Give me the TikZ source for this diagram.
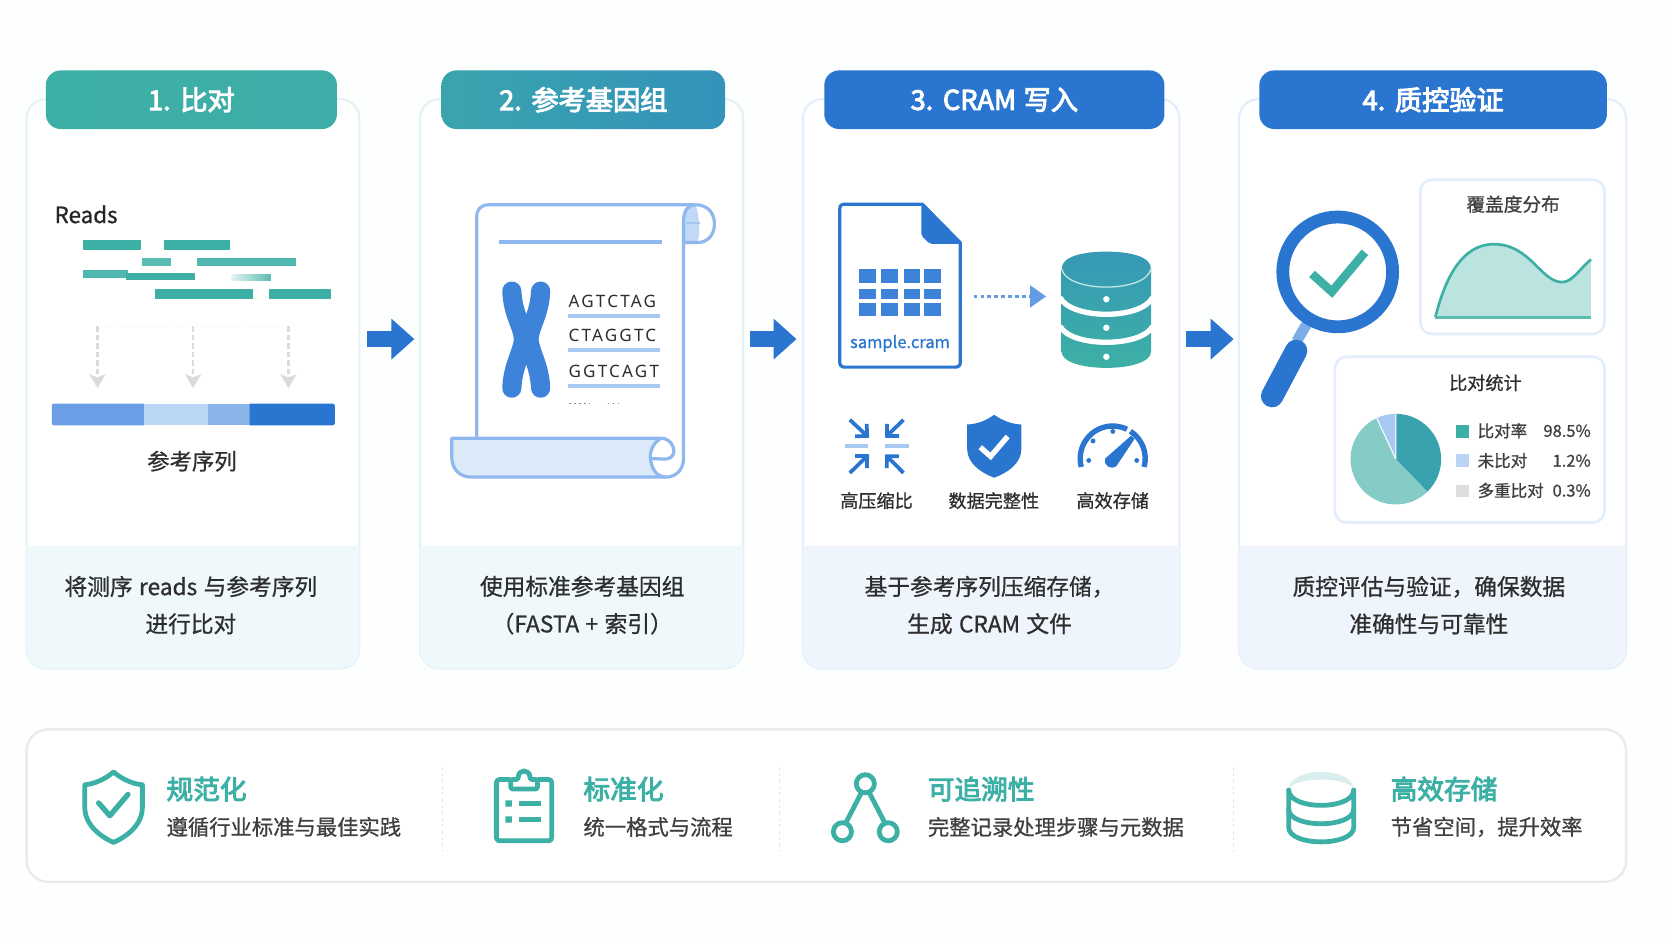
\documentclass[tikz,border=0pt]{standalone}
\usepackage{fontspec}
\usetikzlibrary{arrows.meta,calc}
\setmainfont[WordSpace=1.25,FakeBold=0.8]{Noto Sans CJK SC}
\newfontfamily\medfont[FakeBold=3.5,WordSpace=1.25]{Noto Sans CJK SC}
\newfontfamily\seqfont[LetterSpace=13]{Noto Sans}
\definecolor{bgc}{HTML}{FDFEFE}
\definecolor{teal1}{HTML}{3DB0A5}
\definecolor{blue1}{HTML}{2A75D0}
\definecolor{blue2}{HTML}{3D83DA}
\definecolor{lblue}{HTML}{A6C8F2}
\definecolor{sblue}{HTML}{8FB8EE}
\definecolor{bandA}{HTML}{EFF8FA}
\definecolor{bandB}{HTML}{EFF5FD}
\definecolor{bordA}{HTML}{E5F2F5}
\definecolor{bordB}{HTML}{E3EDFB}
\definecolor{ink}{HTML}{2E2E2E}
\definecolor{ink2}{HTML}{404040}
\definecolor{segA}{HTML}{6A9FE6}
\definecolor{pieA}{HTML}{38A3AE}
\definecolor{pieB}{HTML}{85CCC6}
\newcommand{\fs}[2]{\fontsize{#1}{#2}\selectfont}
\tikzset{
  x=1pt,y=-1pt,
  cardbox/.style={draw=#1,line width=2,fill=white,rounded corners=18,anchor=north west,inner sep=0,outer sep=0},
  headbox/.style={rounded corners=14,anchor=north west,inner sep=0,outer sep=0,text=white,align=center,font=\medfont\fs{25.5}{30},minimum height=55},
  desc/.style={align=center,text=ink,font=\fs{21.3}{35},inner sep=0},
  flow/.style={draw=blue1,line width=14.5,-{Triangle[length=21.6,width=37]}},
  dashdown/.style={draw=black!14,line width=2.4,dash pattern=on 5 off 3,-{Stealth[length=13,width=15,inset=3]}},
  readbar/.style={fill=teal1},
  lab/.style={inner sep=0,text=ink,font=\fs{17}{20}},
  panel/.style={draw=#1,line width=2.5,fill=white,rounded corners=11,anchor=north west,inner sep=0,outer sep=0},
  iconline/.style={draw=teal1,line width=4.5,line join=round,line cap=round},
  btitle/.style={inner sep=0,anchor=west,text=teal1,font=\medfont\fs{25}{30}},
  bsub/.style={inner sep=0,anchor=west,text=ink2,font=\fs{20}{24}},
  leg/.style={inner sep=0,anchor=west,text=ink2,font=\fs{15.5}{18}},
  legv/.style={inner sep=0,anchor=east,text=ink2,font=\fs{15.5}{18}},
  seq/.style={inner sep=0,anchor=west,text=ink,font=\seqfont\fs{16}{18}},
  divline/.style={draw=black!10,line width=1.2,dashed},
}
\begin{document}
\begin{tikzpicture}
\useasboundingbox (0,0) rectangle (1568,882.4);
\fill[bgc] (0,0) rectangle (1568,882.4);

%---- cards
\node[cardbox=bordA,minimum width=312,minimum height=534] (card1) at (25,93) {};
\node[cardbox=bordA,minimum width=303,minimum height=534] (card2) at (394,93) {};
\node[cardbox=bordB,minimum width=353,minimum height=534] (card3) at (753,93) {};
\node[cardbox=bordB,minimum width=363,minimum height=534] (card4) at (1162,93) {};
\fill[bandA] (25,512) [rounded corners=18] -- (25,627) -- (337,627) [sharp corners] -- (337,512) -- cycle;
\fill[bandA] (394,512) [rounded corners=18] -- (394,627) -- (697,627) [sharp corners] -- (697,512) -- cycle;
\fill[bandB] (753,512) [rounded corners=18] -- (753,627) -- (1106,627) [sharp corners] -- (1106,512) -- cycle;
\fill[bandB] (1162,512) [rounded corners=18] -- (1162,627) -- (1525,627) [sharp corners] -- (1525,512) -- cycle;

%---- headers
\node[headbox,minimum width=273,left color=teal1,right color=teal1!95!blue1] (h1) at (43,66) {1. 比对};
\node[headbox,minimum width=266,left color=teal1!80!blue1,right color=teal1!50!blue1] (h2) at (414,66) {2. 参考基因组};
\node[headbox,minimum width=319,fill=blue1] (h3) at (773,66) {3. CRAM 写入};
\node[headbox,minimum width=326,fill=blue1] (h4) at (1181,66) {4. 质控验证};

%---- descriptions
\node[desc] (d1) at (179,567.5) {将测序 reads 与参考序列\\进行比对};
\node[desc] (d2) at (546,567.5) {使用标准参考基因组\\（FASTA + 索引）};
\node[desc] (d3) at (928,567.5) {基于参考序列压缩存储，\\生成 CRAM 文件};
\node[desc] (d4) at (1340,567.5) {质控评估与验证，确保数据\\准确性与可靠性};

%---- flow arrows
\draw[flow,shorten <=7,shorten >=5.4] ([yshift=42]card1.east) -- ([yshift=42]card2.west);
\draw[flow,shorten <=6,shorten >=6] ([yshift=42]card2.east) -- ([yshift=42]card3.west);
\draw[flow,shorten <=6,shorten >=5] ([yshift=42]card3.east) -- ([yshift=42]card4.west);

%---- card 1
\node[inner sep=0,anchor=west,text=black!85,font=\fs{21}{25}] (reads) at (51,201) {Reads};
\fill[readbar] (77.7,225.4) rectangle (132,234);
\fill[readbar] (154,225.4) rectangle (216,234);
\fill[teal1!85] (133,241.7) rectangle (160,249.5);
\fill[teal1!90] (185,241.7) rectangle (278,249.5);
\fill[teal1!90] (78,253) rectangle (120,261);
\fill[readbar] (118,255.7) rectangle (183,263);
\shade[left color=teal1!15,right color=teal1!85] (217,257) rectangle (254,263.5);
\fill[readbar] (145,271) rectangle (237,280);
\fill[readbar] (252,271) rectangle (310,280);
\draw[black!6,line width=1.2,dotted] (91.4,306) -- (270.5,306);
\coordinate (a1s) at (91.4,306); \coordinate (a1e) at (91.4,364);
\coordinate (a2s) at (181,306);  \coordinate (a2e) at (181,364);
\coordinate (a3s) at (270.5,306);\coordinate (a3e) at (270.5,364);
\draw[dashdown] (a1s) -- (a1e);
\draw[dashdown] (a2s) -- (a2e);
\draw[dashdown] (a3s) -- (a3e);
\fill[segA] (135,378.5) [rounded corners=2] -- (48.6,378.5) -- (48.6,398.8) [sharp corners] -- (135,398.8) -- cycle;
\fill[lblue!75] (135,378.5) rectangle (195.5,398.8);
\fill[blue2!60] (195.5,378.5) rectangle (234,398.8);
\fill[blue1] (234,378.5) [rounded corners=2] -- (314,378.5) -- (314,398.8) [sharp corners] -- (234,398.8) -- cycle;
\node[inner sep=0,text=ink,font=\fs{21}{25}] (reflabel) at (180,432.5) {参考序列};

%---- card 2: scroll
\begin{scope}[draw=sblue,line width=3,line join=round]
\fill[white] (447,411) -- (447,204) .. controls (447,196) and (451,192) .. (459,192) -- (652,192) -- (641,225) -- (641,430) -- cycle;
\draw (447,411) -- (447,204) .. controls (447,196) and (451,192) .. (459,192) -- (652,192);
\fill[lblue!70] (652,192) .. controls (645,192) and (640,198) .. (640,208) -- (640,227.5) -- (654,227.5) .. controls (657,220) and (656,200) .. (652,192) -- cycle;
\draw (652,192) .. controls (664,192) and (670,200) .. (670,210) .. controls (670,221) and (663,227.5) .. (654,227.5) -- (641,227.5);
\draw (652,192) .. controls (645,192) and (641,198) .. (641,208) -- (641,430) .. controls (641,440) and (634,447.4) .. (625,447.4);
\draw[line width=2,sblue!80] (643,209) -- (656,209);
\fill[blue2!18] (423.6,411) -- (620,411) .. controls (612,415) and (609,425) .. (610,430) .. controls (611,440) and (616,447.4) .. (625,447.4) -- (442,447.4) .. controls (431,447.4) and (423.6,440) .. (423.6,428) -- cycle;
\draw (625,447.4) -- (442,447.4) .. controls (431,447.4) and (423.6,440) .. (423.6,428) -- (423.6,411) -- (620,411);
\draw (620,411) .. controls (628,411) and (632,418) .. (632,423) .. controls (632,428) and (628,431) .. (622,430.5) -- (610,430);
\draw (620,411) .. controls (612,415) and (609,425) .. (610,430) .. controls (611,440) and (616,447.4) .. (625,447.4);
\draw[line width=3.5] (468,227) -- (621,227);
\end{scope}
\begin{scope}[draw=blue2,line width=18,line cap=round]
\draw (480,273) .. controls (481,295) and (490,305) .. (491,318) .. controls (490,331) and (481,342) .. (480,364);
\draw (507,273) .. controls (506,295) and (497,305) .. (496,318) .. controls (497,331) and (506,342) .. (507,364);
\end{scope}
\node[seq] (s1) at (533,282.5) {AGTCTAG};
\node[seq] (s2) at (533,315) {CTAGGTC};
\node[seq] (s3) at (533,348) {GGTCAGT};
\draw[lblue,line width=3.5] (533,296) -- (619,296) (533,328.4) -- (619,328.4) (533,362) -- (619,362);
\draw[black!45,line width=1.1,dash pattern=on 1.4 off 3.2] (534,378.5) -- (553,378.5) (570,378.5) -- (580,378.5);

%---- card 3: file
\node[draw=none,inner sep=0,minimum width=113,minimum height=153,anchor=north west] (file) at (787.5,191.5) {};
\draw[blue1,line width=3,line join=round,fill=white] (792,191.5) -- (865,191.5) -- (900.6,227.7) -- (900.6,339.5) .. controls (900.6,342.5) and (899,344.3) .. (896,344.3) -- (792,344.3) .. controls (789,344.3) and (787.5,342.5) .. (787.5,339.5) -- (787.5,196) .. controls (787.5,193) and (789,191.5) .. (792,191.5) -- cycle;
\fill[blue1,rounded corners=2] (864,190) -- (902,228.7) -- (872,228.7) -- (864,221) -- cycle;
\foreach \xa/\xb in {805.7/821.7,826.5/842,847.3/862.8,866.5/882}
  \foreach \ya/\yb in {252.6/265.4,270.9/280.6,284.5/296.5}
    \fill[blue2] (\xa,\ya) rectangle (\xb,\yb);
\node[inner sep=0,text=blue1,font=\fs{15.5}{18}] (fname) at (844,322) {sample.cram};
%---- database
\shade[top color=teal1!60!blue1,bottom color=teal1] (995.6,252) .. controls (995.6,241) and (1014,236) .. (1037.5,236) .. controls (1061,236) and (1079.4,241) .. (1079.4,252) -- (1079.4,330) .. controls (1079.4,339) and (1061,345) .. (1037.5,345) .. controls (1014,345) and (995.6,339) .. (995.6,330) -- cycle;
\coordinate (dbw) at (995.6,278);
\draw[white!70!teal1,line width=1.2] (995.6,252) .. controls (1000,275) and (1075,275) .. (1079.4,252);
\draw[white,line width=5] (994,279) .. controls (1005,300) and (1070,300) .. (1081,279);
\draw[white,line width=5] (994,306) .. controls (1005,326) and (1070,326) .. (1081,306);
\fill[white] (1037.5,280.6) circle (3) (1037.5,307.4) circle (3) (1037.5,334.6) circle (3);
\coordinate (fs) at (913,278);
\draw[draw=blue2!80,line width=2.5,dash pattern=on 3.5 off 3,-{Triangle[length=15,width=20.5]}] (fs) -- ($(dbw)+(-14.6,0)$);

%---- small icons row
\begin{scope}[draw=blue1,line width=3.5,line cap=butt]
\draw[-{Straight Barb[length=8,width=16,angle'=90]}] (797,393.7) -- (815,410.5);
\draw[-{Straight Barb[length=8,width=16,angle'=90]}] (847.3,393.7) -- (830,410.5);
\draw[-{Straight Barb[length=8,width=16,angle'=90]}] (797,443.5) -- (815,426);
\draw[-{Straight Barb[length=8,width=16,angle'=90]}] (847.3,443.5) -- (830,426);
\end{scope}
\draw[lblue,line width=3.5] (792.3,418) -- (814,418) (830,418) -- (852,418);
\fill[blue1] (932.3,389) .. controls (941,395) and (950,398) .. (957.8,398) -- (957.8,421) .. controls (957.8,434) and (946,443) .. (932.3,448) .. controls (919,443) and (907,434) .. (907,421) -- (907,398) .. controls (915,398) and (924,395) .. (932.3,389) -- cycle;
\draw[white,line width=5] (919.3,419.4) -- (929,428) -- (945,409.3);
\coordinate (gc) at (1043.5,430);
\draw[blue1,line width=5] (gc) ++(165:30.5) arc[start angle=165,end angle=296,radius=30.5];
\draw[blue1,line width=5] (gc) ++(303:30.5) arc[start angle=303,end angle=375,radius=30.5];
\fill[blue1] (1060.8,408.5) -- (1064,411.5) -- (1047,437) .. controls (1042,441) and (1034.5,437) .. (1036.5,430) -- cycle;
\fill[blue1] (1021,431.8) circle (2.3) (1025,413.5) circle (2.3) (1043.6,404.6) circle (2.3) (1066,431.8) circle (2.3);
\node[lab] (l1) at (822,469.5) {高压缩比};
\node[lab] (l2) at (932,469.5) {数据完整性};
\node[lab] (l3) at (1043.5,469.5) {高效存储};

%---- card 4: magnifier
\draw[lblue!60!blue2,line width=10] (1226,303) -- (1216,320);
\draw[blue1,line width=21,line cap=round] (1215.5,329) -- (1193,371.5);
\draw[blue1,line width=12,fill=white] (1254.5,255) circle (51.5);
\draw[teal1,line width=8] (1230.4,256.9) -- (1249,273.6) -- (1280,236.6);
%---- coverage
\node[panel=bordB,minimum width=172.7,minimum height=144.6] (cov) at (1332,168.6) {};
\node[inner sep=0,text=ink2,font=\fs{17.5}{20}] (covt) at (1419,191.5) {覆盖度分布};
\fill[teal1!35] (1346,297.5) .. controls (1352,275) and (1365,229) .. (1401,229) .. controls (1435,229) and (1445,264.6) .. (1465,264.6) .. controls (1475,264.6) and (1483,250) .. (1492,243.3) -- (1492,297.5) -- cycle;
\draw[teal1,line width=2.5] (1346,297.5) .. controls (1352,275) and (1365,229) .. (1401,229) .. controls (1435,229) and (1445,264.6) .. (1465,264.6) .. controls (1475,264.6) and (1483,250) .. (1492,243.3);
\draw[teal1!85,line width=2.5] (1346,297.5) -- (1492,297.5);
%---- stats
\node[panel=bordB,minimum width=252.9,minimum height=155.4] (stat) at (1251.8,334.6) {};
\node[inner sep=0,text=ink,font=\fs{17}{20}] (statt) at (1393,359) {比对统计};
\coordinate (pc) at (1309,430.6);
\fill[pieA] (pc) -- ++(-90:42.5) arc[start angle=-90,end angle=46,radius=42.5] -- cycle;
\fill[pieB] (pc) -- ++(46:42.5) arc[start angle=46,end angle=245,radius=42.5] -- cycle;
\fill[lblue] (pc) -- ++(245:42.5) arc[start angle=245,end angle=270,radius=42.5] -- cycle;
\draw[white,line width=1] (pc) -- ++(-90:42.5) (pc) -- ++(245:42.5);
\fill[teal1] (1365.4,398.8) rectangle (1377.7,410.4);
\fill[lblue!80] (1365.4,426) rectangle (1377.7,437.6);
\fill[black!13] (1365.4,454.4) rectangle (1377.7,466);
\node[leg] (k1) at (1385.5,404) {比对率};
\node[leg] (k2) at (1385.5,432) {未比对};
\node[leg] (k3) at (1385.5,460) {多重比对};
\node[legv] (v1) at (1492,404) {98.5\%};
\node[legv] (v2) at (1492,432) {1.2\%};
\node[legv] (v3) at (1492,460) {0.3\%};

%---- bottom panel
\node[draw=black!8,line width=2.2,fill=white,rounded corners=20,anchor=north west,inner sep=0,outer sep=0,minimum width=1500,minimum height=143] (bot) at (25,684) {};
\draw[divline] (415,719) -- (415,798.7);
\draw[divline] (731,719) -- (731,798.7);
\draw[divline] (1157,719) -- (1157,798.7);
% shield
\draw[iconline] (106.5,724) .. controls (115,731) and (124,735) .. (133.5,736) -- (133.5,757) .. controls (133.5,773) and (120,784) .. (106.5,790) .. controls (93,784) and (79.5,773) .. (79.5,757) -- (79.5,736) .. controls (89,735) and (98,731) .. (106.5,724) -- cycle;
\draw[iconline,line width=5] (92.5,753) -- (103,765) -- (120,745);
% clipboard
\draw[iconline,rounded corners=3] (478,731) -- (465.5,731) -- (465.5,788.5) -- (517.5,788.5) -- (517.5,731) -- (505,731);
\draw[iconline,fill=white,rounded corners=2] (479,731) -- (486,731) .. controls (486,721) and (497,721) .. (497,731) -- (504,731) -- (504,740) -- (479,740) -- cycle;
\fill[teal1] (474,750.5) rectangle (480,756.5) (474,765.5) rectangle (480,771.5);
\draw[teal1,line width=4] (487,753.5) -- (507,753.5) (487,768.5) -- (507,768.5);
% tree
\draw[iconline] (808,743) -- (793,772) (815,743) -- (830,772);
\draw[iconline] (811.5,735) circle (8.5) (790,780) circle (8.5) (833,780) circle (8.5);
% db
\fill[teal1!20] (1208.5,741) .. controls (1208.5,729) and (1224,724) .. (1239,724) .. controls (1254,724) and (1269.5,729) .. (1269.5,741) .. controls (1269.5,735) and (1254,731) .. (1239,731) .. controls (1224,731) and (1208.5,735) .. (1208.5,741) -- cycle;
\draw[iconline] (1208.5,741) .. controls (1209,760) and (1269,760) .. (1269.5,741);
\draw[iconline] (1208.5,741) -- (1208.5,776) .. controls (1209,794) and (1269,794) .. (1269.5,776) -- (1269.5,741);
\draw[iconline] (1208.5,759) .. controls (1209,777) and (1269,777) .. (1269.5,759);
% bottom texts
\node[btitle] (b1) at (156,740) {规范化};
\node[bsub] (c1) at (156,775.5) {遵循行业标准与最佳实践};
\node[btitle] (b2) at (547,740) {标准化};
\node[bsub] (c2) at (547,775.5) {统一格式与流程};
\node[btitle] (b3) at (870,740) {可追溯性};
\node[bsub] (c3) at (870,775.5) {完整记录处理步骤与元数据};
\node[btitle] (b4) at (1304,740) {高效存储};
\node[bsub] (c4) at (1304,775.5) {节省空间，提升效率};
\end{tikzpicture}
\end{document}
